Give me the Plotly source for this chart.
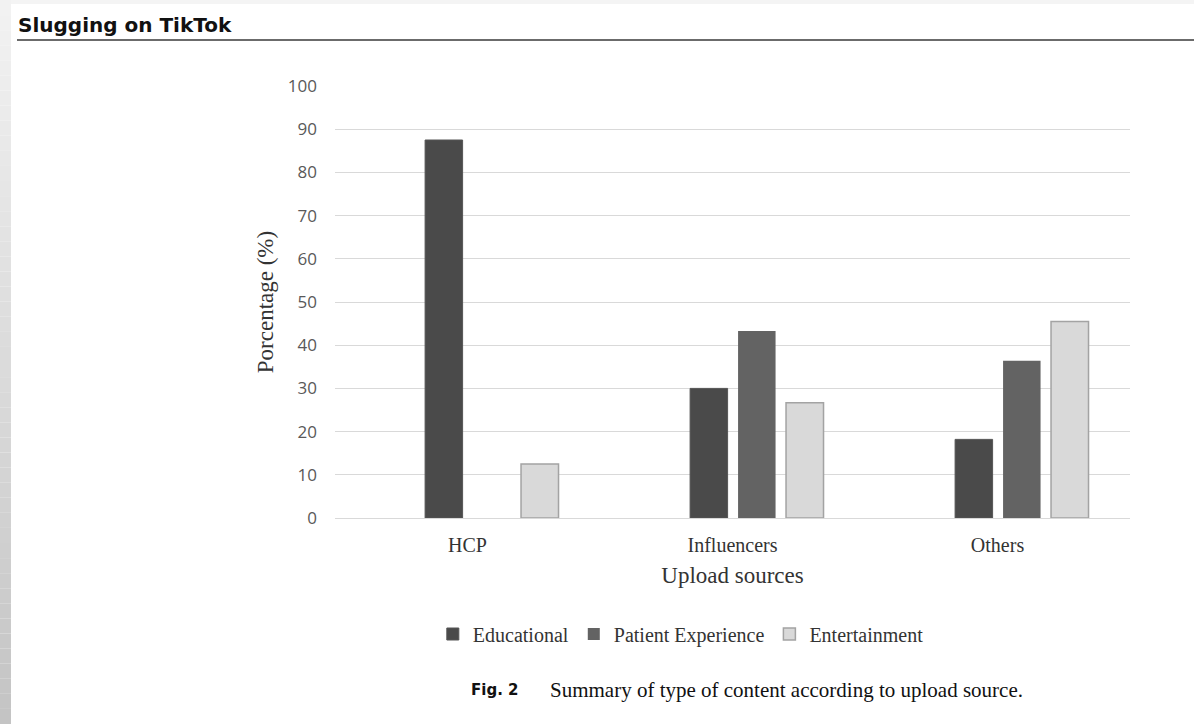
import plotly.graph_objects as go

categories = ["HCP", "Influencers", "Others"]
educational = [87.5, 30.0, 18.2]
patient_experience = [0, 43.3, 36.4]
entertainment = [12.5, 26.7, 45.5]
y_ticks = [0, 10, 20, 30, 40, 50, 60, 70, 80, 90, 100]

W, H = 1194, 724
L, R, T, B = 335, 64, 86, 206
pw, ph = W - L - R, H - T - B

def px_x(x):
    return (x - L) / pw

def px_y(y):
    return (H - B - y) / ph

serif = "Liberation Serif, Times New Roman, serif"
sans = "Open Sans, Liberation Sans, sans-serif"

bar_w = 0.1415
fig = go.Figure()
fig.add_trace(go.Bar(name="Educational", x=categories, y=educational, width=bar_w, offset=-0.160,
                     marker=dict(color="#4a4a4a", line=dict(color="#555555", width=1))))
fig.add_trace(go.Bar(name="Patient Experience", x=categories, y=patient_experience, width=bar_w, offset=0.021,
                     marker=dict(color="#636363", line=dict(color="#6a6a6a", width=0))))
fig.add_trace(go.Bar(name="Entertainment", x=categories, y=entertainment, width=bar_w, offset=0.202,
                     marker=dict(color="#d9d9d9", line=dict(color="#a3a3a3", width=1.5))))

shapes = []
n = 48
for i in range(n):
    y0 = H * i / n
    y1 = H * (i + 1) / n
    g = int(round(242 - (242 - 196) * (i + 0.5) / n))
    col = f"rgb({g},{g},{g})"
    shapes.append(dict(type="rect", xref="paper", yref="paper",
                       x0=px_x(0), x1=px_x(11), y0=px_y(y0), y1=px_y(y1),
                       fillcolor=col, line=dict(width=0), layer="below"))
shapes.append(dict(type="rect", xref="paper", yref="paper",
                   x0=px_x(11), x1=px_x(W), y0=px_y(0), y1=px_y(4),
                   fillcolor="#f4f4f4", line=dict(width=0), layer="below"))
shapes.append(dict(type="line", xref="paper", yref="paper",
                   x0=px_x(17), x1=px_x(W), y0=px_y(40), y1=px_y(40),
                   line=dict(color="#3a3a3a", width=1.5)))

annotations = [
    dict(text="<b>Slugging on TikTok</b>", xref="paper", yref="paper",
         x=px_x(16), y=px_y(25), xanchor="left", yanchor="middle", showarrow=False,
         font=dict(family="DejaVu Sans, sans-serif", size=20, color="#111111")),
    dict(text="<b>Fig. 2</b>", xref="paper", yref="paper",
         x=px_x(469), y=px_y(690), xanchor="left", yanchor="middle", showarrow=False,
         font=dict(family="DejaVu Sans, sans-serif", size=15, color="#111111")),
    dict(text="Summary of type of content according to upload source.", xref="paper", yref="paper",
         x=px_x(548), y=px_y(690), xanchor="left", yanchor="middle", showarrow=False,
         font=dict(family=serif, size=21, color="#111111")),
]

fig.update_layout(
    width=W, height=H,
    margin=dict(l=L, r=R, t=T, b=B, pad=0),
    paper_bgcolor="white", plot_bgcolor="white",
    barmode="overlay",
    showlegend=True,
    legend=dict(orientation="h", x=0.435, xanchor="center", y=px_y(634), yanchor="middle",
                font=dict(family=serif, size=20, color="#333333"),
                itemwidth=30, traceorder="normal"),
    xaxis=dict(showgrid=False, showline=False, ticks="", range=[-0.5, 2.5],
               tickfont=dict(family=serif, size=20, color="#333333"), ticklabelstandoff=13,
               title=dict(text="Upload sources", font=dict(family=serif, size=23, color="#333333"),
                          standoff=11)),
    yaxis=dict(range=[0, 100], tickvals=y_ticks, showgrid=True, gridcolor="#d9d9d9", gridwidth=1,
               zeroline=True, zerolinecolor="#d9d9d9", zerolinewidth=1, showline=False, ticks="",
               tickfont=dict(family=sans, size=17, color="#595959"), ticklabelstandoff=17,
               title=dict(text="Porcentage (%)", font=dict(family=serif, size=23, color="#333333"),
                          standoff=7)),
    shapes=shapes,
    annotations=annotations,
)

fig.write_html("out.html", config={"displayModeBar": False},
               post_script="document.body.style.margin='0';document.body.style.padding='0';")
